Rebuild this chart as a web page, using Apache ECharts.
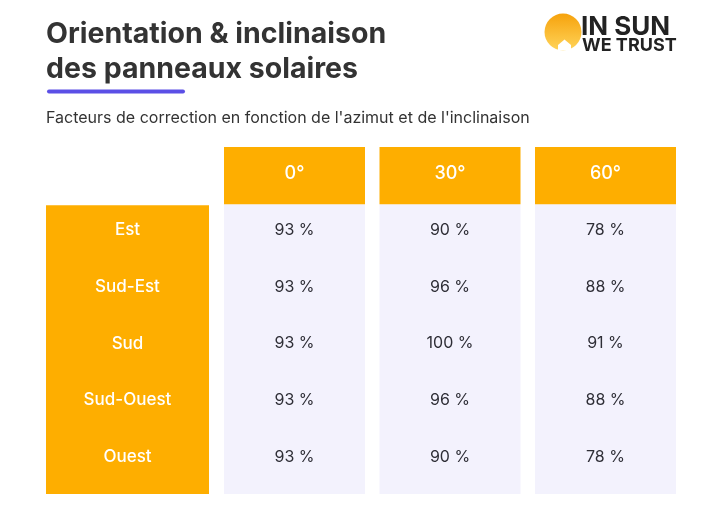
<!DOCTYPE html>
<html>
<head>
<meta charset="utf-8">
<script src="https://cdn.jsdelivr.net/npm/echarts@6/dist/echarts.min.js"></script>
<style>html,body{margin:0;padding:0;background:#fff;}#chart{width:720px;height:523px;}</style>
</head>
<body>
<div id="chart"></div>
<script>
// ---- data ----
const columns = ['0°', '30°', '60°'];
const rows = ['Est', 'Sud-Est', 'Sud', 'Sud-Ouest', 'Ouest'];
const values0 = [93, 93, 93, 93, 93];
const values30 = [90, 96, 100, 96, 90];
const values60 = [78, 88, 91, 88, 78];
const titleLines = ['Orientation & inclinaison', 'des panneaux solaires'];
const subtitle = "Facteurs de correction en fonction de l'azimut et de l'inclinaison";

// ---- styles ----
const ORANGE = '#FEAE00';
const LAVENDER = '#F3F2FD';
const DARK = '#2E2E36';
const FONT = 'Inter, "Noto Sans", sans-serif';

const yCats = ['header'].concat(rows);
const valueSeries = [values0, values30, values60];
const cellData = [];
valueSeries.forEach((vals, c) => vals.forEach((v, r) => cellData.push([c, r + 1, v])));

const chart = echarts.init(document.getElementById('chart'), null, {renderer: 'canvas'});

const option = {
  backgroundColor: '#ffffff',
  animation: false,
  grid: [
    {left: 46, right: 511, top: 145, bottom: 37.5},
    {left: 216.75, right: 36.75, top: 145, bottom: 37.5}
  ],
  xAxis: [
    {gridIndex: 0, type: 'category', data: ['label'], show: false},
    {gridIndex: 1, type: 'category', data: columns, show: false}
  ],
  yAxis: [
    {gridIndex: 0, type: 'category', data: yCats, inverse: true, show: false},
    {gridIndex: 1, type: 'category', data: yCats, inverse: true, show: false}
  ],
  series: [
    // row labels (orange column)
    {
      type: 'custom', xAxisIndex: 0, yAxisIndex: 0,
      data: rows.map((r, i) => [0, i + 1, r]),
      renderItem: function (params, api) {
        const p = api.coord([api.value(0), api.value(1)]);
        const first = api.coord([0, 1]);
        const last = api.coord([0, rows.length]);
        const size = api.size([1, 1]);
        const w = size[0], h = size[1];
        const idx = params.dataIndex;
        const children = [];
        if (idx === 0) {
          const top = first[1] - h / 2 + 3.4;
          const bottom = last[1] + h / 2 + 8.6;
          children.push({type: 'rect', shape: {x: p[0] - w / 2, y: top, width: w, height: bottom - top},
            style: {fill: ORANGE}, z2: 0});
        }
        children.push({type: 'text', z2: 10, style: {text: rows[idx], x: p[0], y: p[1], align: 'center',
          verticalAlign: 'middle', fill: '#ffffff', font: '500 17px ' + FONT}});
        return {type: 'group', children: children};
      }
    },
    // column backgrounds + headers
    {
      type: 'custom', xAxisIndex: 1, yAxisIndex: 1,
      data: columns.map((c, i) => [i, 0, c]),
      renderItem: function (params, api) {
        const p = api.coord([api.value(0), 0]);
        const first = api.coord([api.value(0), 1]);
        const last = api.coord([api.value(0), rows.length]);
        const size = api.size([1, 1]);
        const cw = 141, h = size[1];
        const hTop = p[1] - h / 2 + 2;
        const hBottom = p[1] + h / 2 + 2.6;
        const bTop = first[1] - h / 2 + 2.4;
        const bBottom = last[1] + h / 2 + 8.6;
        return {
          type: 'group',
          children: [
            {type: 'rect', shape: {x: p[0] - cw / 2, y: bTop, width: cw, height: bBottom - bTop},
             style: {fill: LAVENDER}},
            {type: 'rect', shape: {x: p[0] - cw / 2, y: hTop, width: cw, height: hBottom - hTop},
             style: {fill: ORANGE}},
            {type: 'text', style: {text: columns[params.dataIndex], x: p[0], y: p[1], align: 'center',
             verticalAlign: 'middle', fill: '#ffffff', font: '500 18px ' + FONT}}
          ]
        };
      }
    },
    // values
    {
      type: 'custom', xAxisIndex: 1, yAxisIndex: 1,
      data: cellData,
      renderItem: function (params, api) {
        const p = api.coord([api.value(0), api.value(1)]);
        return {
          type: 'text',
          style: {text: api.value(2) + ' %', x: p[0], y: p[1], align: 'center', verticalAlign: 'middle',
                  fill: DARK, font: '400 16px ' + FONT}
        };
      }
    }
  ],
  graphic: [
    {type: 'text', left: 46, top: 20, style: {text: titleLines[0], fill: '#333333', font: 'bold 28.5px ' + FONT}},
    {type: 'text', left: 46, top: 55, style: {text: titleLines[1], fill: '#333333', font: 'bold 28.5px ' + FONT}},
    {type: 'rect', shape: {x: 47, y: 89.5, width: 138, height: 4, r: 2}, style: {fill: '#5B4FE6'}},
    {type: 'text', left: 46, top: 110, style: {text: subtitle, fill: '#333333', font: '400 16px ' + FONT}},
    // logo
    {type: 'circle', shape: {cx: 563, cy: 32, r: 18.5},
     style: {fill: new echarts.graphic.LinearGradient(0, 0, 0, 1, [
       {offset: 0, color: '#F6A20C'}, {offset: 1, color: '#FFD45A'}])}},
    {type: 'polygon', shape: {points: [[558, 50.5], [558, 45], [564.5, 39.5], [571, 45], [571, 50.5]]}, style: {fill: '#ffffff'}},
    {type: 'text', left: 581, top: 14.5, style: {text: 'IN SUN', fill: '#222222', font: 'bold 26px ' + FONT}},
    {type: 'text', left: 582, top: 37, style: {text: 'WE TRUST', fill: '#222222', font: 'bold 18px ' + FONT}}
  ]
};
chart.setOption(option);
</script>
</body>
</html>
